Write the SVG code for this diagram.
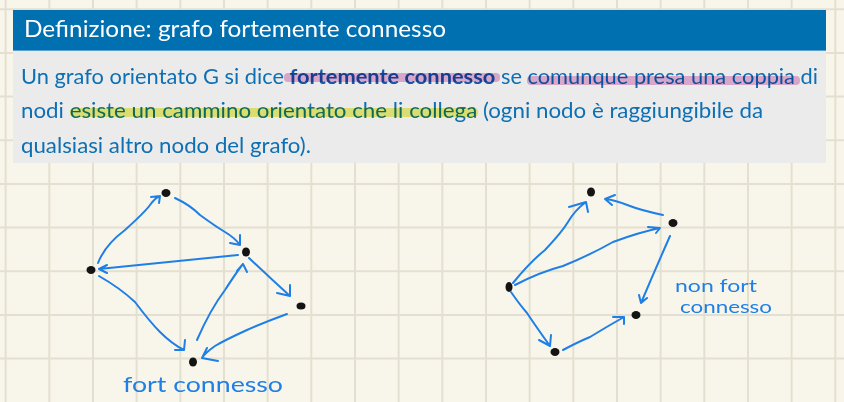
<svg xmlns="http://www.w3.org/2000/svg" width="844" height="402" viewBox="0 0 844 402">
<style>
.grid{stroke:#e4e0d1;stroke-width:2;fill:none}
.edge{stroke:#1f7fe6;stroke-width:2;fill:none;stroke-linecap:round;stroke-linejoin:round}
.node{fill:#141414}
.hand{font-family:"Lato",sans-serif;font-weight:400;fill:#1f7fe6}
.body{font-family:"Lato","Noto Sans",sans-serif;font-size:21.5px;fill:#0d6fb4}
.hl{mix-blend-mode:multiply}
</style>
<rect width="844" height="402" fill="#f8f6ea"/>
<path class="grid" d="M5.6,0V402M49.3,0V402M93,0V402M136.6,0V402M180.3,0V402M224,0V402M267.6,0V402M311.3,0V402M355,0V402M398.6,0V402M442.3,0V402M486,0V402M529.6,0V402M573.3,0V402M617,0V402M660.6,0V402M704.3,0V402M748,0V402M791.6,0V402M835.3,0V402M0,9.3H844M0,53H844M0,96.6H844M0,140.3H844M0,184H844M0,227.6H844M0,271.3H844M0,315H844M0,358.6H844"/>
<g id="definition">
<rect x="13" y="10" width="813" height="40" fill="#0070b1"/>
<rect x="13" y="50" width="813" height="113" fill="#ebebeb"/>
<line x1="13" y1="50.5" x2="826" y2="50.5" stroke="#5a9fd0" stroke-width="1"/>
<text x="24" y="37" font-family="Lato,sans-serif" font-size="23.5" fill="#ffffff" textLength="422" lengthAdjust="spacingAndGlyphs">Definizione: grafo fortemente connesso</text>
<text class="body" x="21" y="84" textLength="797" lengthAdjust="spacingAndGlyphs">Un grafo orientato G si dice <tspan font-weight="bold" fill="#1b56a6">fortemente connesso</tspan> se comunque presa una coppia di</text>
<text class="body" x="21" y="118" textLength="742" lengthAdjust="spacingAndGlyphs">nodi esiste un cammino orientato che li collega (ogni nodo è raggiungibile da</text>
<text class="body" x="21" y="153" textLength="290" lengthAdjust="spacingAndGlyphs">qualsiasi altro nodo del grafo).</text>
<rect class="hl" x="284" y="73" width="216" height="9" rx="4" fill="#eab4da"/>
<rect class="hl" x="527" y="76" width="273" height="9" rx="4" fill="#eab4da"/>
<rect class="hl" x="70" y="108" width="408" height="9" rx="4" fill="#eef07c"/>
</g>
<g id="connectors">
<path class="edge" d="M98,263 Q105,245 125,230 Q145,212 150,205 Q155,198 160,196 M151,197 L160,196 L159,203"/>
<path class="edge" d="M175,198 Q190,205 200,215 Q215,226 225,232 Q235,238 240,245 M240,235 L240,245 L230,243"/>
<path class="edge" d="M238,255 Q170,262 99,269 M107,265 L99,269 L107,273"/>
<path class="edge" d="M99,276 Q120,288 135,302 Q150,322 160,332 Q172,344 184,350 M185,340 L184,350 L175,350"/>
<path class="edge" d="M197,340 Q210,310 225,290 Q238,270 243,264 M237,271 L243,264 L247,272"/>
<path class="edge" d="M249,258 Q270,278 290,296 M277,293 L290,296 L290,285"/>
<path class="edge" d="M287,314 Q265,322 247,330 Q225,340 215,346 Q205,353 202,358 M207,348 L202,358 L218,361"/>
<path class="edge" d="M513,283 Q530,262 545,250 Q562,232 568,222 Q575,210 586,202 M569,207 L586,202 L588,212"/>
<path class="edge" d="M663,215 Q640,210 630,206 Q615,200 605,199 M615,195 L605,199 L612,205"/>
<path class="edge" d="M515,285 Q540,272 563,266 Q590,255 613,242 Q640,232 660,228 M648,227 L660,228 L656,233"/>
<path class="edge" d="M670,236 Q655,270 641,303 M639,295 L641,303 L647,298"/>
<path class="edge" d="M511,292 Q520,305 527,313 Q537,328 550,346 M539,340 L550,346 L551,335"/>
<path class="edge" d="M563,350 Q578,342 590,337 Q608,326 624,317 M613,317 L624,317 L624,324"/>
</g>
<g id="nA"><ellipse class="node" cx="166" cy="193" rx="4.5" ry="4"/></g>
<g id="nB"><ellipse class="node" cx="246" cy="252" rx="4" ry="4.5"/></g>
<g id="nC"><ellipse class="node" cx="91" cy="270" rx="4.5" ry="4"/></g>
<g id="nD"><ellipse class="node" cx="301" cy="306" rx="4.5" ry="3.5"/></g>
<g id="nE"><ellipse class="node" cx="193" cy="362" rx="4" ry="4.5"/></g>
<g id="nP"><ellipse class="node" cx="591" cy="192" rx="4" ry="4.5"/></g>
<g id="nQ"><ellipse class="node" cx="673" cy="223" rx="4.5" ry="4"/></g>
<g id="nR"><ellipse class="node" cx="509" cy="287" rx="3.5" ry="5"/></g>
<g id="nS"><ellipse class="node" cx="636" cy="315" rx="4.5" ry="4"/></g>
<g id="nT"><ellipse class="node" cx="555" cy="352" rx="4.5" ry="4"/></g>
<g id="labels">
<text class="hand" x="123" y="392" font-size="22" textLength="160" lengthAdjust="spacingAndGlyphs">fort connesso</text>
<text class="hand" x="675" y="292" font-size="18" textLength="82" lengthAdjust="spacingAndGlyphs">non fort</text>
<text class="hand" x="680" y="313" font-size="18" textLength="92" lengthAdjust="spacingAndGlyphs">connesso</text>
</g>
</svg>
